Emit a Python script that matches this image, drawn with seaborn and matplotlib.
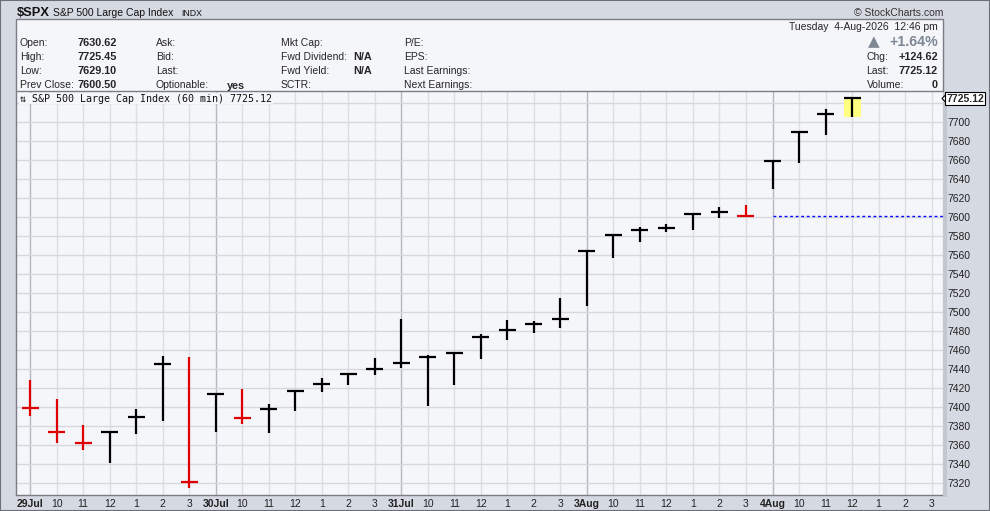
import numpy as np
import pandas as pd
import matplotlib
matplotlib.use("Agg")
import matplotlib.pyplot as plt
from matplotlib.patches import Rectangle, Polygon
import seaborn as sns

# dados (barras de 60 min)
days = ['29Jul', '30Jul', '31Jul', '3Aug', '4Aug']
hours = ['10', '11', '12', '1', '2', '3']
highs = [7428, 7408, 7381, 7373, 7398, 7453, 7452, 7413, 7419, 7403, 7418, 7430,
         7434, 7451, 7492, 7454, 7457, 7476, 7491, 7490, 7514, 7564, 7581, 7589,
         7592, 7603, 7610, 7612, 7659, 7689, 7713, 7725.45]
lows = [7390, 7362, 7354, 7341, 7371, 7385, 7314, 7373, 7382, 7372, 7395, 7415,
        7423, 7433, 7441, 7401, 7423, 7450, 7470, 7478, 7483, 7506, 7557, 7573,
        7584, 7586, 7599, 7600.2, 7629.1, 7656, 7686, 7705]
closes = [7399, 7373, 7362, 7373, 7389, 7445, 7321, 7413, 7388, 7398, 7416, 7424,
          7434, 7440, 7446, 7452, 7457, 7473, 7481, 7487, 7492, 7564, 7581, 7586,
          7588, 7603, 7605, 7600.5, 7659, 7689, 7708, 7725.12]
prior_close = 7410  # fechamento antes da primeira barra (estimado)
prev_close = 7600.50
grid_ticks = list(range(7320, 7721, 20))
label_ticks = list(range(7320, 7701, 20))  # 7720 fica escondido atras do rotulo do preco

info_left = [('Open:', '7630.62'), ('High:', '7725.45'), ('Low:', '7629.10'), ('Prev Close:', '7600.50')]
info_col2 = [('Ask:', ''), ('Bid:', ''), ('Last:', ''), ('Optionable:', 'yes')]
info_col3 = [('Mkt Cap:', ''), ('Fwd Dividend:', 'N/A'), ('Fwd Yield:', 'N/A'), ('SCTR:', '')]
info_col4 = ['P/E:', 'EPS:', 'Last Earnings:', 'Next Earnings:']
info_right = [('Chg:', '+124.62'), ('Last:', '7725.12'), ('Volume:', '0')]

df = pd.DataFrame({'slot': np.arange(len(closes)), 'high': highs, 'low': lows, 'close': closes})
df['dir'] = np.where(df['close'] < df['close'].shift(1, fill_value=prior_close), 'down', 'up')
cores = {'up': '#000000', 'down': '#E00000'}

sns.set_style('white')
plt.rcParams['font.family'] = ['Liberation Sans', 'DejaVu Sans']

W, H = 990, 511
fig = plt.figure(figsize=(W / 100, H / 100), dpi=100, facecolor='#D5D9E2')


def fx(x):
    return x / W


def fy(y):
    return 1 - y / H


# borda externa
fig.add_artist(Rectangle((0, 0), 1, 1, transform=fig.transFigure, fill=False,
                         edgecolor='#6B6E76', linewidth=1.5))
# sombra a direita do grafico
fig.add_artist(Rectangle((fx(943), fy(497)), 4 / W, (497 - 91) / H, transform=fig.transFigure,
                         facecolor='#C3C7D0', edgecolor='none'))

ax = fig.add_axes([fx(16), fy(495), (943 - 16) / W, (495 - 91) / H])
ax.set_facecolor('#F5F6FA')
n_slots = len(days) * 7
ax.set_xlim(-0.53, 34.43)
ax.set_ylim(7307, 7732.3)

# grade
for i in range(n_slots):
    ax.axvline(i, color='#B4B7BF' if i % 7 == 0 else '#DCDEE4', linewidth=1, zorder=0)
for v in grid_ticks:
    ax.axhline(v, color='#D6D8DE', linewidth=1, zorder=0)

# barras: linha high-low e traco do fechamento
ax.vlines(df['slot'], df['low'], df['high'], colors=df['dir'].map(cores), linewidth=1.6, zorder=3)
sns.scatterplot(data=df, x='slot', y='close', hue='dir', palette=cores, marker='_',
                s=150, linewidth=1.6, legend=False, ax=ax, zorder=4)

# destaque da ultima barra
last = df.iloc[-1]
ax.add_patch(Rectangle((last['slot'] - 0.32, last['low'] - 0.5), 0.64,
                       last['high'] - last['low'] + 1.5, facecolor='#FFFF80',
                       edgecolor='none', zorder=2))

# linha do fechamento anterior
ax.hlines(prev_close, 28, 34.43, colors='#0000FF', linewidth=1, linestyles=(0, (2, 2)), zorder=2)

ax.set_xlabel('')
ax.set_ylabel('')
ax.set_xticks(range(n_slots))
xlabels = []
for d in days:
    xlabels += [d] + hours
ax.set_xticklabels(xlabels, fontsize=7.5, color='#222222')
for i, t in enumerate(ax.get_xticklabels()):
    if i % 7 == 0:
        t.set_fontweight('bold')
ax.tick_params(axis='x', length=0, pad=3)

ax.yaxis.tick_right()
ax.set_yticks(label_ticks)
ax.set_yticklabels([str(v) for v in label_ticks], fontsize=7.5, color='#222222')
ax.tick_params(axis='y', length=2, pad=1, color='#666666')

for side in ['left', 'bottom']:
    ax.spines[side].set_color('#7A7D86')
    ax.spines[side].set_linewidth(1)
ax.spines['top'].set_visible(False)
ax.spines['right'].set_color('#888888')
ax.spines['right'].set_linestyle((0, (1, 1)))

# legenda do painel
fig.text(fx(20), fy(101.5), '⇅ S&P 500 Large Cap Index (60 min) 7725.12',
         family=['DejaVu Sans Mono', 'DejaVu Sans'], fontsize=7.2, color='#111111',
         va='baseline', bbox=dict(facecolor='#F5F6FA', edgecolor='none', pad=0.5))

# rotulo do ultimo preco
fig.text(fx(965), fy(98.5), '7725.12', fontsize=7.5, fontweight='bold', ha='center', va='center',
         bbox=dict(boxstyle='square,pad=0.12', facecolor='white', edgecolor='black', linewidth=0.8))
fig.add_artist(Polygon([(fx(942), fy(98.5)), (fx(946.5), fy(94)), (fx(946.5), fy(103))],
                       closed=True, transform=fig.transFigure, facecolor='white',
                       edgecolor='black', linewidth=0.8))

# cabecalho
fig.add_artist(Rectangle((fx(16), fy(91)), (943 - 16) / W, (91 - 19) / H, transform=fig.transFigure,
                         facecolor='#F5F6FA', edgecolor='#7A7D86', linewidth=1))
fig.text(fx(17), fy(15.5), '$SPX', fontsize=9.3, fontweight='bold', va='baseline', color='#111111')
fig.text(fx(53), fy(15.5), 'S&P 500 Large Cap Index', fontsize=7.5, va='baseline', color='#111111')
fig.text(fx(181.5), fy(15.5), 'INDX', fontsize=6.3, va='baseline', color='#111111')
fig.text(fx(943), fy(15.5), '© StockCharts.com', fontsize=7.5, va='baseline', ha='right', color='#333333')

rows = [45.5, 59.5, 73.5, 87.5]
for y, (lab, val) in zip(rows, info_left):
    fig.text(fx(20), fy(y), lab, fontsize=7.5, va='baseline')
    fig.text(fx(77.5), fy(y), val, fontsize=7.8, fontweight='bold', va='baseline')
for y, (lab, val) in zip(rows, info_col2):
    fig.text(fx(156), fy(y), lab, fontsize=7.5, va='baseline')
    if val:
        fig.text(fx(227), fy(y + 1.5), val, fontsize=7.8, fontweight='bold', va='baseline')
for y, (lab, val) in zip(rows, info_col3):
    fig.text(fx(281), fy(y), lab, fontsize=7.5, va='baseline')
    if val:
        fig.text(fx(353), fy(y), val, fontsize=7.8, fontweight='bold', va='baseline')
for y, lab in zip(rows, info_col4):
    fig.text(fx(404.5), fy(y), lab, fontsize=7.5, va='baseline')

fig.text(fx(938), fy(30), 'Tuesday  4-Aug-2026  12:46 pm', fontsize=7.5, ha='right', va='baseline')
fig.text(fx(938), fy(46), '+1.64%', fontsize=10.2, fontweight='bold', ha='right', va='baseline',
         color='#7E8794')
fig.text(fx(868), fy(46), '▲', fontsize=11, ha='left', va='baseline', color='#7E8794',
         family=['DejaVu Sans'])
for y, (lab, val) in zip(rows[1:], info_right):
    fig.text(fx(866.5), fy(y), lab, fontsize=7.5, va='baseline')
    fig.text(fx(938), fy(y), val, fontsize=7.8, fontweight='bold', ha='right', va='baseline')

fig.savefig('out.png', dpi=100, facecolor=fig.get_facecolor())
